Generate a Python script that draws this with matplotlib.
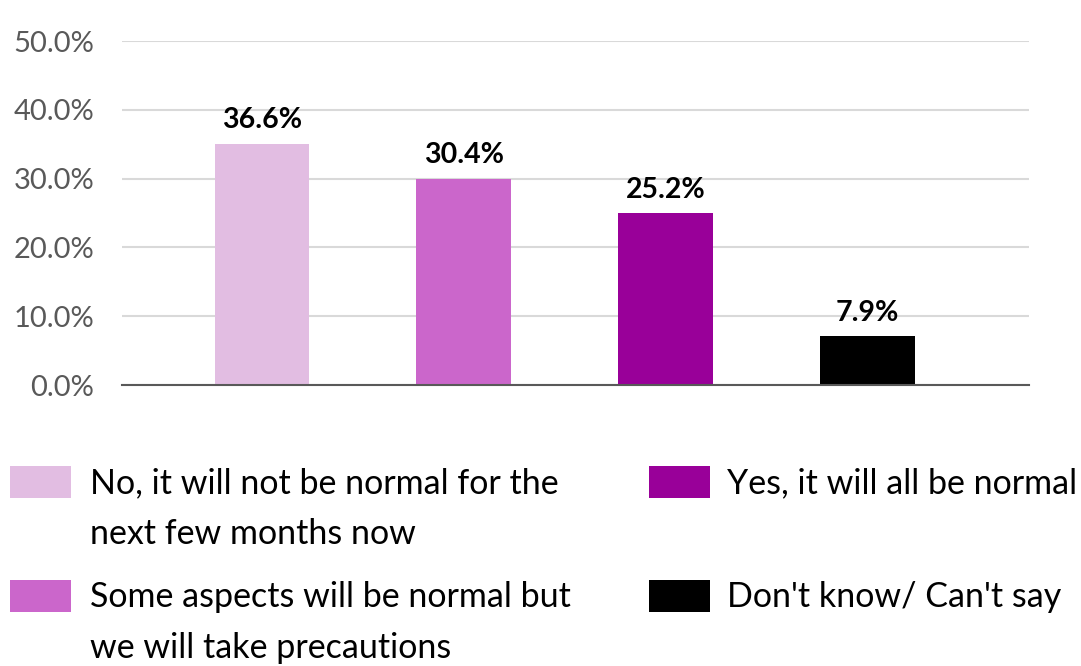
import numpy as np
import matplotlib
matplotlib.use("Agg")
import matplotlib.pyplot as plt
from matplotlib.patches import Rectangle

plt.rcParams['font.family'] = ['Lato', 'DejaVu Sans']

categories = [
    "No, it will not be normal for the\nnext few months now",
    "Some aspects will be normal but\nwe will take precautions",
    "Yes, it will all be normal",
    "Don't know/ Can't say",
]
# bar heights as drawn in the chart, and the labels printed on them
bar_values = [35.1, 30.0, 25.0, 7.1]
label_values = [36.6, 30.4, 25.2, 7.9]
colors = ["#e2bde2", "#cb66cb", "#990099", "#000000"]
yticks = [0, 10, 20, 30, 40, 50]

W, H = 1081, 666
fig = plt.figure(figsize=(W / 100, H / 100), dpi=100)
ax = fig.add_axes([122 / W, 1 - 385 / H, (1029 - 122) / W, (385 - 41) / H])

x = np.arange(len(categories))
ax.bar(x, bar_values, width=0.47, color=colors, zorder=3)

for xi, v, lab in zip(x, bar_values, label_values):
    ax.annotate(f"{lab:.1f}%", (xi, v), xytext=(0, 11), textcoords="offset points",
                ha="center", va="baseline", fontsize=20.5, fontweight="bold", color="#000000")

ax.set_ylim(0, 50)
ax.set_xlim(-0.694, 3.80)
ax.set_yticks(yticks)
ax.set_yticklabels([f"{t:.1f}%" for t in yticks], fontsize=21, color="#595959")
ax.set_xticks([])
ax.tick_params(axis="y", length=0, pad=20)
ax.grid(axis="y", color="#d9d9d9", linewidth=1.5, zorder=0)
for s in ["top", "right", "left"]:
    ax.spines[s].set_visible(False)
ax.spines["bottom"].set_color("#595959")
ax.spines["bottom"].set_linewidth(1.5)
ax.spines["bottom"].set_zorder(4)

# legend drawn by hand: two columns, two rows
patch_x = [10, 10, 649, 649]
patch_top = [466, 580, 466, 580]
text_x = [90, 90, 727, 727]
for i, lab in enumerate(categories):
    fig.patches.append(Rectangle((patch_x[i] / W, 1 - (patch_top[i] + 32) / H), 61 / W, 32 / H,
                                 transform=fig.transFigure, facecolor=colors[i],
                                 edgecolor="none"))
    fig.text(text_x[i] / W, 1 - (patch_top[i] + 1) / H, lab, fontsize=24.5,
             va="top", ha="left", color="#000000", linespacing=1.75)

fig.savefig("out.png", dpi=100)
